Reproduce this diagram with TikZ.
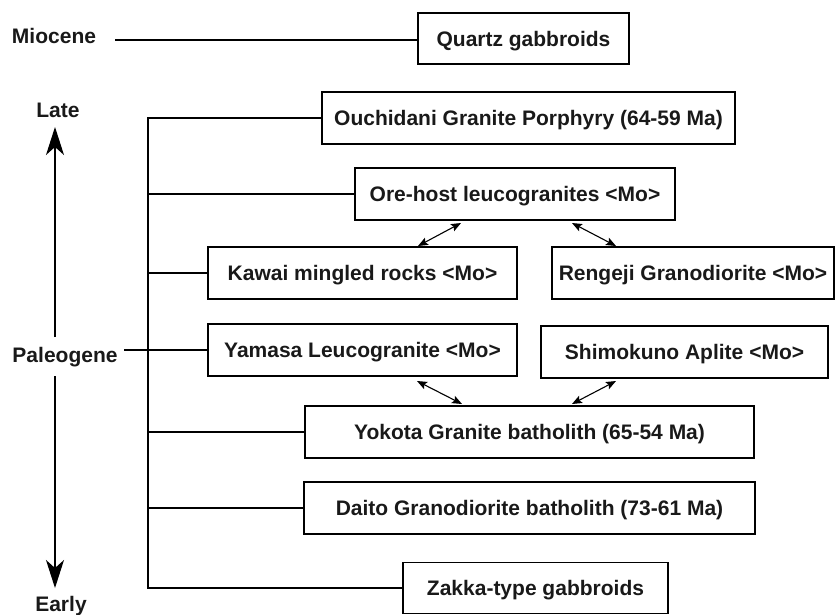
\documentclass[tikz,border=0pt]{standalone}
\usepackage{fontspec}
\setmainfont{Liberation Sans}
\usetikzlibrary{arrows.meta}
\begin{document}
\begin{tikzpicture}[x=1pt,y=-1pt,
  every node/.style={font=\fontsize{21}{25}\selectfont\bfseries, text=black!90},
  box/.style={draw, line width=1.3pt, inner sep=0pt, text depth=0pt, text height=15pt},
  lbl/.style={anchor=base, inner sep=0pt},
  conn/.style={line width=1.25pt},
  bigarrow/.style={line width=1.2pt, -{Stealth[length=28pt,width=18pt,inset=8pt]}},
  dbl/.style={line width=1.1pt, {Stealth[length=10pt,width=8pt,inset=2pt]}-{Stealth[length=10pt,width=8pt,inset=2pt]}}]
\useasboundingbox (0,0) rectangle (835,614);

% boxes
\node[box, minimum width=211pt, minimum height=51pt] (q)   at (523.5,38.5) {Quartz gabbroids};
\node[box, minimum width=413pt, minimum height=52pt] (ou)  at (528.5,118)  {Ouchidani Granite Porphyry (64-59 Ma)};
\node[box, minimum width=320pt, minimum height=52pt] (ore) at (515,194)    {Ore-host leucogranites <Mo>};
\node[box, minimum width=309pt, minimum height=52pt] (kaw) at (362.5,273)  {Kawai mingled rocks <Mo>};
\node[box, minimum width=282pt, minimum height=52pt] (ren) at (693,273)    {Rengeji Granodiorite <Mo>};
\node[box, minimum width=309pt, minimum height=52pt] (yam) at (362.5,350)  {Yamasa Leucogranite <Mo>};
\node[box, minimum width=287pt, minimum height=52pt] (shi) at (684.5,352)  {Shimokuno Aplite <Mo>};
\node[box, minimum width=449pt, minimum height=52pt] (yok) at (529.5,432)  {Yokota Granite batholith (65-54 Ma)};
\node[box, minimum width=451pt, minimum height=52pt] (dai) at (529.5,508)  {Daito Granodiorite batholith (73-61 Ma)};
\node[box, minimum width=265pt, minimum height=51pt] (zak) at (535.5,588)  {Zakka-type gabbroids};

% labels
\node[lbl] (mio)  at (54,43)  {Miocene};
\node[lbl] (late) at (58,117) {Late};
\node[lbl] (pal)  at (65,362) {Paleogene};
\node[lbl] (early) at (61,611) {Early};

% Miocene connector
\coordinate (m0) at (115,40);
\draw[conn] (m0) -- (m0 -| q.west);

% bracket
\coordinate (bx) at (148,0);
\draw[conn] (ou.west) -- (ou.west -| bx) |- (zak.west);
\draw[conn] (bx |- ore.west) -- (ore.west);
\draw[conn] (bx |- kaw.west) -- (kaw.west);
\draw[conn] (bx |- yok.west) -- (yok.west);
\draw[conn] (bx |- dai.west) -- (dai.west);

% Paleogene connector
\coordinate (p0) at (124,350);
\draw[conn] (p0) -- (p0 -| yam.west);

% time axis
\coordinate (tu0) at (55,337);
\coordinate (tu1) at (55,127);
\coordinate (td0) at (55,376);
\coordinate (td1) at (55,588);
\draw[bigarrow] (tu0) -- (tu1);
\draw[bigarrow] (td0) -- (td1);

% double arrows
\coordinate (a1) at (461,223); \coordinate (b1) at (418,246);
\coordinate (a2) at (572,223); \coordinate (b2) at (616,246);
\coordinate (a3) at (417,381); \coordinate (b3) at (462,404);
\coordinate (a4) at (616,381); \coordinate (b4) at (572,404);
\draw[dbl] (a1) -- (b1);
\draw[dbl] (a2) -- (b2);
\draw[dbl] (a3) -- (b3);
\draw[dbl] (a4) -- (b4);
\end{tikzpicture}
\end{document}
